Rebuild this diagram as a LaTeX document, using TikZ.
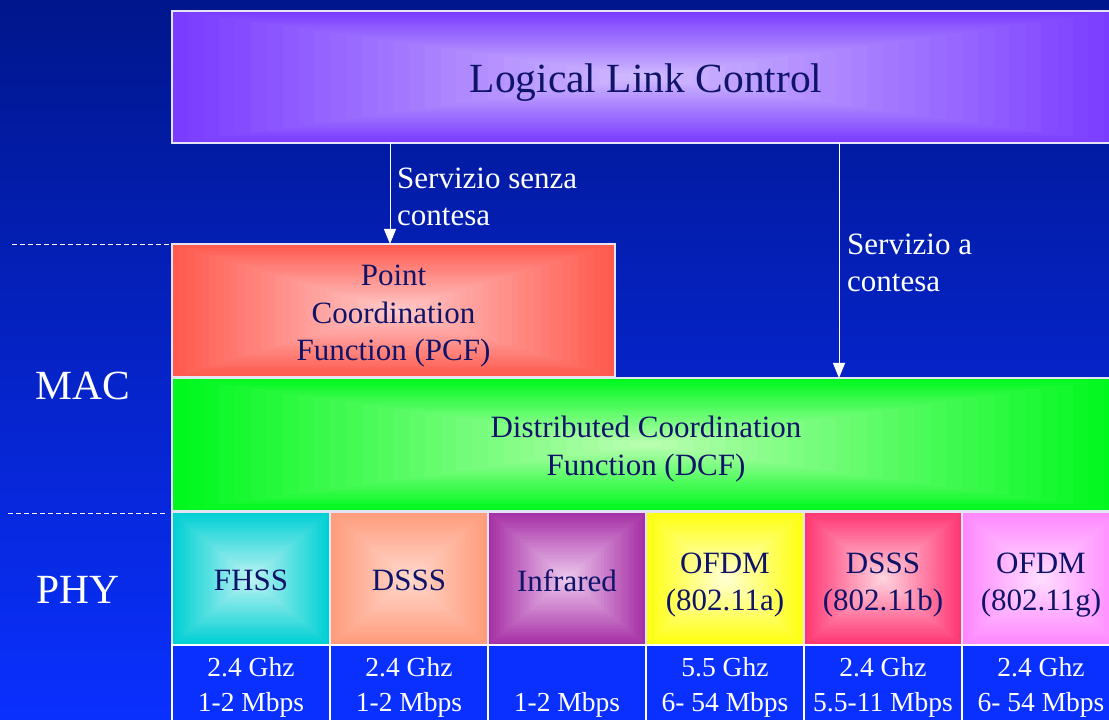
\documentclass[tikz,border=0pt]{standalone}
\usepackage{fontspec}
\setmainfont{Liberation Serif}
\usetikzlibrary{calc,arrows.meta}
\definecolor{bgtop}{HTML}{00168C}
\definecolor{bgmid}{HTML}{0628DC}
\definecolor{bgbot}{HTML}{0A30FF}
\definecolor{navy}{RGB}{15,20,105}
\definecolor{edgec}{HTML}{E4E4F4}
\definecolor{lloc}{HTML}{7A3CFF}\definecolor{llic}{HTML}{D0BAFF}
\definecolor{pcfo}{HTML}{FF5A4E}\definecolor{pcfi}{HTML}{FFC8C8}
\definecolor{dcfo}{HTML}{00F81E}\definecolor{dcfi}{HTML}{B8FFB0}
\definecolor{fho}{HTML}{00D0D4}\definecolor{fhi}{HTML}{BCF2F2}
\definecolor{dso}{HTML}{FF9C7C}\definecolor{dsi}{HTML}{FFD8CC}
\definecolor{iro}{HTML}{A630A6}\definecolor{iri}{HTML}{ECC6EC}
\definecolor{oao}{HTML}{FFFF10}\definecolor{oai}{HTML}{FFFFD2}
\definecolor{dbo}{HTML}{FF3674}\definecolor{dbi}{HTML}{FFD2DE}
\definecolor{ogo}{HTML}{FF88FF}\definecolor{ogi}{HTML}{FFDCFF}
\definecolor{botb}{HTML}{0A30FF}
\newcommand\fsbig{\fontsize{41.5}{48}\selectfont}
\newcommand\fsmid{\fontsize{31}{37.5}\selectfont}
\newcommand\fssmall{\fontsize{27.5}{35}\selectfont}
\tikzset{
  gbox/.style 2 args={draw=edgec, line width=1.2pt, inner sep=0pt, outer sep=0pt,
    path picture={
      \foreach \k in {0,...,29}{
        \pgfmathtruncatemacro\p{\k*100/29}
        \pgfmathsetmacro\s{1-\k/30}
        \fill[#2!\p!#1] ($(path picture bounding box.center)!\s!(path picture bounding box.south west)$)
          rectangle ($(path picture bounding box.center)!\s!(path picture bounding box.north east)$);
      }}},
  boxtext/.style={align=center, text=navy, font=\fsmid, inner sep=0pt},
  phy/.style={minimum width=158pt, minimum height=133pt},
  botbox/.style={fill=botb, draw=white, line width=2.5pt, inner sep=0pt, outer sep=0pt,
    minimum width=158pt, minimum height=85pt, align=center, text=white, font=\fssmall},
  lbl/.style={text=white, align=left, font=\fsmid, inner sep=0pt},
  side/.style={text=white, font=\fsbig, inner sep=0pt},
  arr/.style={white, line width=1pt, -{Triangle[width=12pt,length=15pt]}},
  dashline/.style={white, line width=0.8pt, dash pattern=on 5pt off 3pt}
}
\begin{document}
\begin{tikzpicture}[x=1pt,y=1pt]
\useasboundingbox (0,0) rectangle (1109,720);
\shade[top color=bgtop, middle color=bgmid, bottom color=bgbot] (0,0) rectangle (1109,720);

% main boxes
\node[gbox={lloc}{llic}, minimum width=948pt, minimum height=132pt] (llc) at (646,643) {};
\node[gbox={pcfo}{pcfi}, minimum width=443pt, minimum height=133pt] (pcf) at (393.5,409.5) {};
\node[gbox={dcfo}{dcfi}, minimum width=948pt, minimum height=133pt] (dcf) at (646,275.5) {};
\node[boxtext, font=\fsbig] (llc-t) at ([yshift=-6pt]llc.center) {Logical Link Control};
\node[boxtext] (pcf-t) at ([yshift=-6pt]pcf.center) {Point\\Coordination\\Function (PCF)};
\node[boxtext] (dcf-t) at ([yshift=-4.5pt]dcf.center) {Distributed Coordination\\Function (DCF)};

% PHY boxes
\node[gbox={fho}{fhi}, phy] (fhss) at (251,141.5) {};
\node[gbox={dso}{dsi}, phy] (dsss) at (409,141.5) {};
\node[gbox={iro}{iri}, phy] (ir) at (567,141.5) {};
\node[gbox={oao}{oai}, phy] (ofa) at (725,141.5) {};
\node[gbox={dbo}{dbi}, phy] (dsb) at (883,141.5) {};
\node[gbox={ogo}{ogi}, phy] (ofg) at (1041,141.5) {};
\node[boxtext] (fhss-t) at ([yshift=-2pt]fhss.center) {FHSS};
\node[boxtext] (dsss-t) at ([yshift=-2pt]dsss.center) {DSSS};
\node[boxtext] (ir-t) at ([yshift=-2pt]ir.center) {Infrared};
\node[boxtext] (ofa-t) at ([yshift=-6.5pt]ofa.center) {OFDM\\(802.11a)};
\node[boxtext] (dsb-t) at ([yshift=-6.5pt]dsb.center) {DSSS\\(802.11b)};
\node[boxtext] (ofg-t) at ([yshift=-6.5pt]ofg.center) {OFDM\\(802.11g)};

% bottom boxes
\node[botbox] (b1) at (251,32.5) {2.4 Ghz\\1-2 Mbps};
\node[botbox] (b2) at (409,32.5) {2.4 Ghz\\1-2 Mbps};
\node[botbox] (b3) at (567,32.5) {\phantom{2.4 Ghz}\\1-2 Mbps};
\node[botbox] (b4) at (725,32.5) {5.5 Ghz\\6- 54 Mbps};
\node[botbox] (b5) at (883,32.5) {2.4 Ghz\\5.5-11 Mbps};
\node[botbox] (b6) at (1041,32.5) {2.4 Ghz\\6- 54 Mbps};

% arrows
\coordinate (a1) at (390,0);
\coordinate (a2) at (839,0);
\draw[arr] (llc.south -| a1) -- (pcf.north -| a1);
\draw[arr] (llc.south -| a2) -- (dcf.north -| a2);
\node[lbl, anchor=west] (l1) at (397,523) {Servizio senza\\contesa};
\node[lbl, anchor=west] (l2) at (847,457) {Servizio a\\contesa};

% side labels
\node[side] (mac) at (83,334) {MAC};
\node[side] (phyl) at (78,130) {PHY};
\coordinate (d1a) at (12,476);
\coordinate (d1b) at (170,476);
\coordinate (d2a) at (8,207);
\coordinate (d2b) at (166,207);
\draw[dashline] (d1a) -- (d1b);
\draw[dashline] (d2a) -- (d2b);
\end{tikzpicture}
\end{document}
